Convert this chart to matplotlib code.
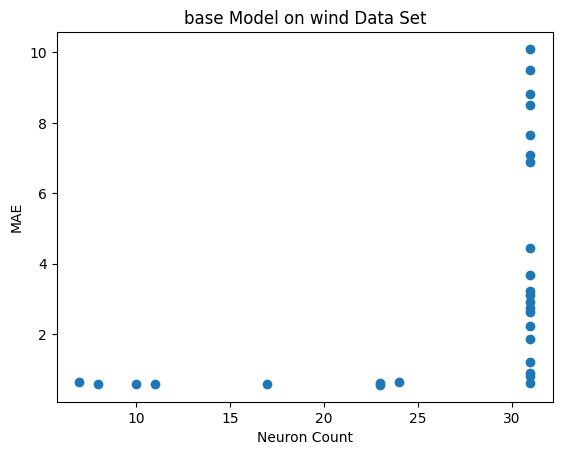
import matplotlib
matplotlib.use("Agg")
import matplotlib.pyplot as plt

neuron_counts = [7, 8, 10, 11, 17, 23, 23, 24,
                 31, 31, 31, 31, 31, 31, 31, 31, 31, 31,
                 31, 31, 31, 31, 31, 31, 31, 31, 31, 31]
mae_values = [0.64, 0.59, 0.59, 0.59, 0.57, 0.55, 0.60, 0.64,
              10.1, 9.5, 8.82, 8.5, 7.65, 7.08, 6.88, 4.45, 3.68, 3.22,
              3.12, 2.9, 2.75, 2.62, 2.22, 1.85, 1.2, 0.9, 0.8, 0.6]

fig, ax = plt.subplots(figsize=(6.4, 4.8), dpi=100)
ax.scatter(neuron_counts, mae_values)
ax.set_title("base Model on wind Data Set")
ax.set_xlabel("Neuron Count")
ax.set_ylabel("MAE")
fig.savefig("out.png", dpi=100, bbox_inches="tight")
